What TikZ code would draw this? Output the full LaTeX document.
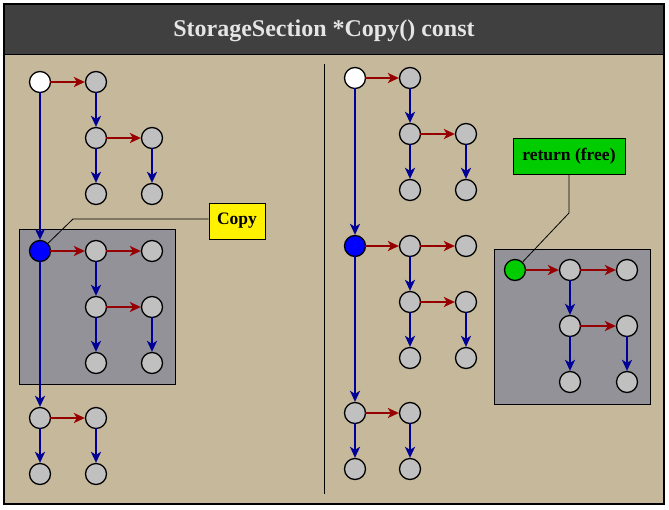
\documentclass[tikz,border=0pt]{standalone}
\usepackage{fontspec}
\setmainfont{Liberation Serif}
\usetikzlibrary{arrows.meta}
\definecolor{titlegray}{RGB}{64, 64, 64}
\definecolor{paper}{RGB}{198, 184, 154}
\definecolor{boxgray}{RGB}{146, 146, 152}
\definecolor{cellgray}{RGB}{192, 192, 192}
\definecolor{nextred}{RGB}{150, 0, 0}
\definecolor{downblue}{RGB}{0, 0, 150}
\definecolor{labgreen}{RGB}{0, 204, 0}

\begin{document}
\begin{tikzpicture}[x=1pt, y=-1pt,
  cell/.style={circle, draw=black, line width=1.3pt, fill=cellgray, minimum size=21pt, inner sep=0pt},
  nextarr/.style={-{Stealth[length=11pt, width=10pt, inset=3pt]}, line width=2.8pt, nextred, shorten <=-1pt},
  downarr/.style={-{Stealth[length=11pt, width=10pt, inset=3pt]}, line width=2.8pt, downblue, shorten <=-1pt},
  tag/.style={draw=black, line width=1pt, font=\fontsize{17.5}{20}\selectfont\bfseries, inner sep=0pt, minimum height=36pt}]
  \useasboundingbox (0,0) rectangle (669,509);

  %% frame and title
  \fill[white] (0,0) rectangle (669,509);
  \fill[paper] (4,54) rectangle (664,504);
  \fill[titlegray] (4,4) rectangle (664,54);
  \draw[line width=1pt] (4,54) -- (664,54);
  \draw[line width=1.5pt] (4,4) rectangle (664,504);
  \node[text=white!90!black, font=\fontsize{24}{27}\selectfont\bfseries] (title) at (324,31) {StorageSection *Copy() const};
  \draw[line width=1pt] (324,64) -- (324,494);

  %% LEFT: before the copy
  \fill[boxgray, draw=black, line width=1pt] (19,229) rectangle (175,384);

  \node[cell, fill=white] (la) at (40,82) {};
  \node[cell] (lb) at (96,82) {};
  \node[cell] (lc) at (96,138) {};
  \node[cell] (ld) at (152,138) {};
  \node[cell] (le) at (96,194) {};
  \node[cell] (lf) at (152,194) {};

  \node[cell, fill=blue] (lg) at (40,251) {};
  \node[cell] (lh) at (96,251) {};
  \node[cell] (li) at (152,251) {};
  \node[cell] (lj) at (96,307) {};
  \node[cell] (lk) at (152,307) {};
  \node[cell] (ll) at (96,363) {};
  \node[cell] (lm) at (152,363) {};

  \node[cell] (ln) at (40,418) {};
  \node[cell] (lo) at (96,418) {};
  \node[cell] (lp) at (40,474) {};
  \node[cell] (lq) at (96,474) {};

  \draw[nextarr] (la) -- (lb);
  \draw[downarr] (lb) -- (lc);
  \draw[nextarr] (lc) -- (ld);
  \draw[downarr] (lc) -- (le);
  \draw[downarr] (ld) -- (lf);
  \draw[downarr] (la) -- (lg);
  \draw[nextarr] (lg) -- (lh);
  \draw[nextarr] (lh) -- (li);
  \draw[downarr] (lh) -- (lj);
  \draw[nextarr] (lj) -- (lk);
  \draw[downarr] (lj) -- (ll);
  \draw[downarr] (lk) -- (lm);
  \draw[downarr] (lg) -- (ln);
  \draw[nextarr] (ln) -- (lo);
  \draw[downarr] (ln) -- (lp);
  \draw[downarr] (lo) -- (lq);

  \node[tag, fill=yellow, minimum width=56pt] (copytag) at (237,221) {Copy};
  \coordinate (copybend) at (73,219);
  \draw[line width=0.8pt] (lg) -- (copybend) -- (copytag.west |- copybend);

  %% RIGHT: after the copy
  \node[cell, fill=white] (ra) at (355,78) {};
  \node[cell] (rb) at (410,78) {};
  \node[cell] (rc) at (410,134) {};
  \node[cell] (rd) at (466,134) {};
  \node[cell] (re) at (410,190) {};
  \node[cell] (rf) at (466,190) {};

  \node[cell, fill=blue] (rg) at (355,246) {};
  \node[cell] (rh) at (410,246) {};
  \node[cell] (ri) at (466,246) {};
  \node[cell] (rj) at (410,302) {};
  \node[cell] (rk) at (466,302) {};
  \node[cell] (rl) at (410,358) {};
  \node[cell] (rm) at (466,358) {};

  \node[cell] (rn) at (355,413) {};
  \node[cell] (ro) at (410,413) {};
  \node[cell] (rp) at (355,469) {};
  \node[cell] (rq) at (410,469) {};

  \draw[nextarr] (ra) -- (rb);
  \draw[downarr] (rb) -- (rc);
  \draw[nextarr] (rc) -- (rd);
  \draw[downarr] (rc) -- (re);
  \draw[downarr] (rd) -- (rf);
  \draw[downarr] (ra) -- (rg);
  \draw[nextarr] (rg) -- (rh);
  \draw[nextarr] (rh) -- (ri);
  \draw[downarr] (rh) -- (rj);
  \draw[nextarr] (rj) -- (rk);
  \draw[downarr] (rj) -- (rl);
  \draw[downarr] (rk) -- (rm);
  \draw[downarr] (rg) -- (rn);
  \draw[nextarr] (rn) -- (ro);
  \draw[downarr] (rn) -- (rp);
  \draw[downarr] (ro) -- (rq);

  %% the new section
  \fill[boxgray, draw=black, line width=1pt] (494,249) rectangle (650,404);
  \node[cell, fill=labgreen] (na) at (515,270) {};
  \node[cell] (nb) at (570,270) {};
  \node[cell] (nc) at (627,270) {};
  \node[cell] (nd) at (570,326) {};
  \node[cell] (ne) at (627,326) {};
  \node[cell] (nf) at (570,382) {};
  \node[cell] (ng) at (627,382) {};

  \draw[nextarr] (na) -- (nb);
  \draw[nextarr] (nb) -- (nc);
  \draw[downarr] (nb) -- (nd);
  \draw[nextarr] (nd) -- (ne);
  \draw[downarr] (nd) -- (nf);
  \draw[downarr] (ne) -- (ng);

  \node[tag, fill=labgreen, minimum width=112pt] (rettag) at (569,156) {return (free)};
  \coordinate (retbend) at (569,213);
  \draw[line width=0.8pt] (rettag.south) -- (retbend) -- (na);
\end{tikzpicture}
\end{document}
